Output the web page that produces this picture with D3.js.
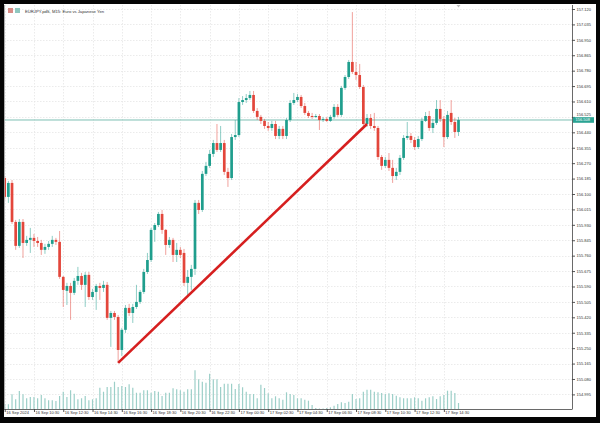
<!DOCTYPE html>
<html><head><meta charset="utf-8">
<script src="https://cdn.jsdelivr.net/npm/d3@7"></script>
<style>html,body{margin:0;padding:0;background:#000;overflow:hidden}svg{display:block}</style>
</head><body><svg id="c" width="600" height="423"></svg>
<script>
const title = "EURJPY.pdS, M15: Euro vs Japanese Yen";
const opens = [156.188,156.084,156.161,155.946,155.814,155.946,155.830,155.847,155.858,155.841,155.830,155.792,155.808,155.825,155.847,155.836,155.643,155.566,155.593,155.555,155.621,155.648,155.599,155.654,155.532,155.560,155.593,155.582,155.599,155.417,155.444,155.422,155.240,155.351,155.472,155.444,155.477,155.505,155.560,155.670,155.736,155.902,155.929,155.990,155.902,155.819,155.847,155.764,155.792,155.775,155.610,155.643,155.687,156.051,156.012,156.211,156.255,156.321,156.381,156.343,156.381,156.222,156.188,156.414,156.425,156.607,156.618,156.629,156.646,156.558,156.525,156.503,156.475,156.464,156.486,156.420,156.459,156.420,156.508,156.602,156.618,156.635,156.585,156.547,156.530,156.525,156.530,156.508,156.514,156.503,156.525,156.580,156.536,156.685,156.745,156.828,156.773,156.756,156.690,156.486,156.519,156.475,156.464,156.304,156.255,156.288,156.244,156.199,156.222,156.299,156.409,156.420,156.398,156.359,156.403,156.503,156.530,156.464,156.492,156.569,156.514,156.414,156.547,156.497,156.442];
const highs = [156.199,156.172,156.177,155.957,155.962,155.962,155.869,155.913,155.880,155.863,155.847,155.825,155.841,155.869,155.858,155.896,155.648,155.610,155.610,155.637,155.698,155.665,155.670,155.670,155.577,155.604,155.610,155.621,155.615,155.455,155.455,155.433,155.362,155.488,155.494,155.494,155.599,155.571,155.687,155.775,155.913,155.940,156.001,156.012,155.907,155.863,155.858,155.830,155.808,155.797,155.681,155.709,156.067,156.067,156.227,156.277,156.343,156.398,156.486,156.475,156.398,156.244,156.431,156.508,156.629,156.640,156.651,156.668,156.668,156.574,156.536,156.514,156.497,156.503,156.503,156.475,156.475,156.519,156.618,156.657,156.651,156.646,156.602,156.558,156.547,156.541,156.541,156.525,156.525,156.536,156.596,156.596,156.696,156.756,156.839,157.103,156.828,156.817,156.701,156.541,156.541,156.547,156.475,156.315,156.304,156.326,156.288,156.244,156.315,156.425,156.497,156.436,156.414,156.420,156.519,156.552,156.558,156.514,156.618,156.618,156.530,156.558,156.618,156.519,156.525];
const lows = [156.067,156.051,155.935,155.792,155.803,155.747,155.814,155.775,155.808,155.808,155.764,155.770,155.792,155.808,155.819,155.632,155.477,155.488,155.406,155.543,155.599,155.571,155.477,155.516,155.516,155.461,155.516,155.560,155.406,155.257,155.406,155.169,155.207,155.334,155.428,155.389,155.466,155.494,155.549,155.659,155.725,155.836,155.918,155.880,155.764,155.803,155.725,155.725,155.747,155.593,155.532,155.571,155.654,155.990,156.001,156.199,156.244,156.304,156.332,156.332,156.205,156.139,156.177,156.398,156.414,156.591,156.602,156.618,156.547,156.508,156.486,156.459,156.448,156.448,156.403,156.403,156.403,156.403,156.497,156.591,156.607,156.574,156.536,156.519,156.514,156.519,156.453,156.497,156.497,156.497,156.514,156.525,156.525,156.674,156.734,156.762,156.729,156.679,156.475,156.470,156.459,156.448,156.288,156.233,156.244,156.227,156.161,156.177,156.205,156.288,156.398,156.381,156.343,156.348,156.392,156.497,156.448,156.436,156.481,156.497,156.359,156.403,156.481,156.409,156.420];
const closes = [156.084,156.161,155.946,155.814,155.946,155.830,155.847,155.858,155.841,155.830,155.792,155.808,155.825,155.847,155.836,155.643,155.571,155.593,155.555,155.621,155.648,155.599,155.654,155.532,155.560,155.593,155.582,155.599,155.417,155.444,155.422,155.240,155.351,155.472,155.444,155.477,155.505,155.560,155.670,155.736,155.902,155.929,155.990,155.902,155.819,155.847,155.764,155.792,155.764,155.610,155.643,155.687,156.051,156.012,156.211,156.255,156.321,156.381,156.343,156.381,156.222,156.188,156.414,156.425,156.607,156.618,156.629,156.646,156.558,156.525,156.503,156.475,156.464,156.486,156.420,156.459,156.420,156.508,156.602,156.618,156.635,156.585,156.547,156.530,156.525,156.530,156.508,156.514,156.503,156.525,156.580,156.536,156.685,156.745,156.828,156.773,156.756,156.690,156.486,156.519,156.475,156.464,156.304,156.255,156.288,156.244,156.199,156.222,156.299,156.409,156.420,156.398,156.359,156.403,156.503,156.530,156.464,156.492,156.569,156.514,156.414,156.536,156.497,156.442,156.508];
const volumes = [500,470,1470,970,1800,1470,1070,1200,1200,1070,1400,1070,870,870,800,1300,1730,1200,1870,1530,970,1070,1300,870,970,1070,2130,1730,2200,2200,2730,2200,2300,2200,2470,2130,1630,1630,1870,1870,1630,1800,1730,1300,1630,1630,2070,1970,1870,1730,1970,1970,3870,2970,2730,2630,3530,2970,2970,2200,2530,2530,2530,2000,2500,2170,1730,1500,1500,1070,2430,2100,1570,1070,1270,1070,930,1670,1500,1400,1070,1070,930,830,400,100,50,50,100,170,330,500,670,600,730,1500,1000,1070,1730,1930,1930,1730,1670,1600,1500,1570,1500,1330,1170,1070,1070,1070,1170,1070,830,1070,1170,1270,1000,1270,1400,1830,1830,1600,600];
const timeTickIndex = [0,8,16,24,32,40,48,56,64,72,80,88,96,104,112,120];
const timeTickLabels = ["16 Sep 2024","16 Sep 10:30","16 Sep 12:30","16 Sep 14:30","16 Sep 16:30","16 Sep 18:30","16 Sep 20:30","16 Sep 22:30","17 Sep 00:30","17 Sep 02:30","17 Sep 04:30","17 Sep 06:30","17 Sep 08:30","17 Sep 10:30","17 Sep 12:30","17 Sep 14:30"];
const priceTicks = [154.995,155.080,155.165,155.250,155.335,155.420,155.505,155.590,155.675,155.760,155.845,155.930,156.015,156.100,156.185,156.270,156.355,156.440,156.525,156.610,156.695,156.780,156.865,156.950,157.035,157.120];
const trendStart = [31, 155.169];
const trendEnd = [99, 156.486];

const UP = "#1f9e8d", DOWN = "#e3463b";
const L = 4, R = 572, T = 5, B = 409;
const svg = d3.select("#c");
const FONT = "Liberation Sans, Arial, sans-serif";

// window frame
svg.append("rect").attr("x",0).attr("y",0).attr("width",600).attr("height",423).attr("fill","#050505");
svg.append("rect").attr("x",4).attr("y",4).attr("width",592).attr("height",413).attr("fill","#ffffff");

const x = d3.scaleLinear().domain([0, opens.length - 1]).range([4.7, 458.5]);
const y = d3.scaleLinear().domain([154.995, 157.120]).range([394.4, 9]);
const vy = d3.scaleLinear().domain([0, d3.max(volumes)]).range([B, B - 38.7]);

const defs = svg.append("defs");
defs.append("clipPath").attr("id","plot").append("rect").attr("x",L+0.5).attr("y",T).attr("width",R-L-0.5).attr("height",B-T);

// grid
const grid = svg.append("g").attr("stroke","#e6e6e6").attr("stroke-width",0.8).attr("stroke-dasharray","1.5,1.5");
grid.selectAll("line.h").data(priceTicks).join("line")
  .attr("x1",L).attr("x2",R).attr("y1",d=>Math.round(y(d))+0.5).attr("y2",d=>Math.round(y(d))+0.5);
grid.selectAll("line.v").data(timeTickIndex).join("line")
  .attr("y1",T).attr("y2",B).attr("x1",d=>Math.round(x(d))+0.5).attr("x2",d=>Math.round(x(d))+0.5);

const plot = svg.append("g").attr("clip-path","url(#plot)");

// volumes
plot.append("g").selectAll("line").data(volumes).join("line")
  .attr("x1",(d,i)=>x(i)).attr("x2",(d,i)=>x(i))
  .attr("y1",B).attr("y2",d=>vy(d))
  .attr("stroke","#9ccfc8").attr("stroke-width",1.2);

// current price line
const last = closes[closes.length-1];
plot.append("line").attr("x1",L).attr("x2",R).attr("y1",y(last)).attr("y2",y(last))
  .attr("stroke","#7dbfb4").attr("stroke-width",1);

// candles
const idx = d3.range(opens.length);
const cg = plot.append("g");
cg.selectAll("line").data(idx).join("line")
  .attr("x1",i=>x(i)).attr("x2",i=>x(i))
  .attr("y1",i=>y(highs[i])).attr("y2",i=>y(lows[i]))
  .attr("stroke",i=>closes[i]>=opens[i]?UP:DOWN).attr("stroke-opacity",0.5).attr("stroke-width",1);
cg.selectAll("rect").data(idx).join("rect")
  .attr("x",i=>x(i)-1.35).attr("width",2.7)
  .attr("y",i=>Math.min(y(opens[i]),y(closes[i])))
  .attr("height",i=>Math.max(1,Math.abs(y(opens[i])-y(closes[i]))))
  .attr("fill",i=>closes[i]>=opens[i]?UP:DOWN);

// trend line
plot.append("line")
  .attr("x1",x(trendStart[0])).attr("y1",y(trendStart[1]))
  .attr("x2",x(trendEnd[0])).attr("y2",y(trendEnd[1]))
  .attr("stroke","#d61f1f").attr("stroke-width",2.6);

// shift marker
svg.append("path").attr("d",`M${x(opens.length-1)-2},5 L${x(opens.length-1)+2},5 L${x(opens.length-1)},7.5 Z`).attr("fill","#bbbbbb");

// axes
const yAxis = d3.axisRight(y).tickValues(priceTicks).tickFormat(d3.format(".3f")).tickSize(3).tickPadding(1.5);
const ya = svg.append("g").attr("transform",`translate(${R},0)`).call(yAxis);
ya.select(".domain").remove();
ya.selectAll("line").attr("stroke","#555");
ya.selectAll("text").attr("font-size",4).attr("font-family",FONT).attr("fill","#333");
const last_ = closes[closes.length-1];
// nudge a tick label that would sit under the current-price box
ya.selectAll(".tick").each(function(d){
  const dy = y(d) - y(last_);
  if (Math.abs(dy) < 6) d3.select(this).select("text").attr("dy", (dy < 0 ? -3.2 : 3.2) + 1.3 + "px");
});

const xAxis = d3.axisBottom(x).tickValues(timeTickIndex).tickFormat((d,i)=>timeTickLabels[i]).tickSize(3);
const xa = svg.append("g").attr("transform",`translate(0,${B})`).call(xAxis);
xa.select(".domain").remove();
xa.selectAll("line").attr("stroke","#555");
xa.selectAll("text").attr("font-size",4).attr("font-family",FONT).attr("fill","#333")
  .attr("text-anchor","start").attr("x",1).attr("y",2.2);

// borders
svg.append("line").attr("x1",R+0.5).attr("x2",R+0.5).attr("y1",T).attr("y2",B).attr("stroke","#444").attr("stroke-width",0.8);
svg.append("line").attr("x1",L).attr("x2",R+0.5).attr("y1",B+0.5).attr("y2",B+0.5).attr("stroke","#444").attr("stroke-width",0.8);
svg.append("line").attr("x1",L+0.5).attr("x2",L+0.5).attr("y1",T).attr("y2",B).attr("stroke","#999").attr("stroke-width",0.8);

// current price label
const lp = svg.append("g").attr("transform",`translate(${R+1},${y(last)})`);
lp.append("rect").attr("x",0).attr("y",-2.8).attr("width",21).attr("height",5.6).attr("fill","#2aa393");
lp.append("text").attr("x",2.5).attr("y",1.4).attr("font-size",4).attr("font-family",FONT).attr("fill","#fff").text(d3.format(".3f")(last));

// title with icons
svg.append("rect").attr("x",8).attr("y",8).attr("width",5).attr("height",5).attr("fill","#d98c86");
svg.append("rect").attr("x",15).attr("y",8).attr("width",5).attr("height",5).attr("fill","#8fc7bf");
svg.append("text").attr("x",25).attr("y",12.5).attr("font-size",4.2).attr("font-family",FONT).attr("fill","#333").text(title);
</script></body></html>
